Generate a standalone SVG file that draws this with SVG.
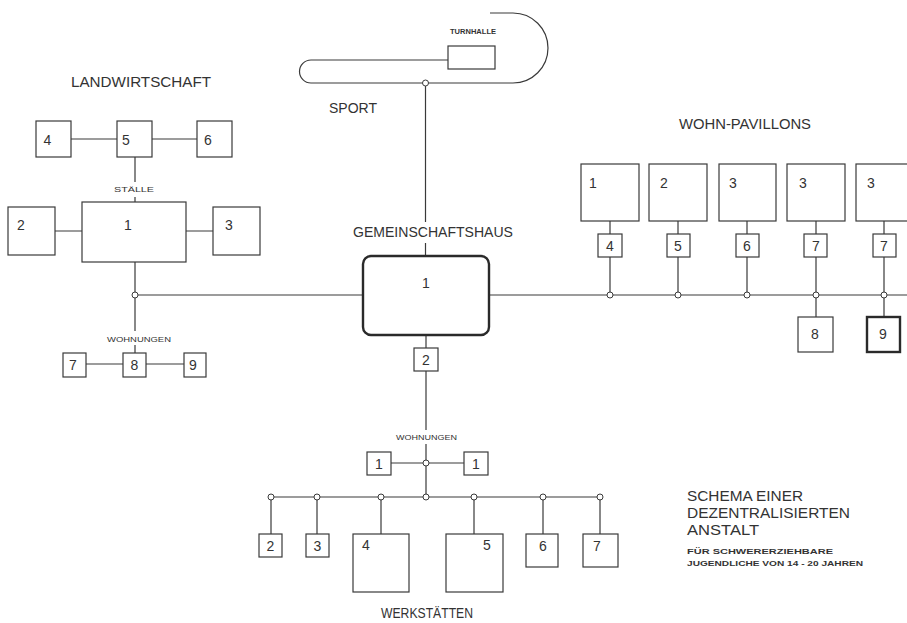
<svg xmlns="http://www.w3.org/2000/svg" width="907" height="623" viewBox="0 0 907 623">
<style>
.ln{stroke:#3a3a3a;stroke-width:1.2;fill:none}
.bx{stroke:#3a3a3a;stroke-width:1.2;fill:#fff}
.bxb{stroke:#2a2a2a;stroke-width:2.4;fill:#fff}
.jc{stroke:#3a3a3a;stroke-width:1;fill:#fff}
text{font-family:"Liberation Sans","DejaVu Sans",sans-serif;fill:#333}
.n{font-size:14px;text-anchor:middle}
.t{font-size:14.5px}
.s{font-size:7px;text-anchor:middle}
.sb{font-size:7.5px;font-weight:bold}
</style>
<rect width="907" height="623" fill="#fff"/>
<g id="connectors">
<path class="ln" d="M448,60 H311 A11.5,11.5 0 0 0 311,83 H513 A35,35 0 0 0 513,13 H490"/>
<path class="ln" d="M425.5,83 V222 M425.5,243 V256"/>
<path class="ln" d="M135,295 H363 M489,295 H907"/>
<path class="ln" d="M71,139 H117 M152,139 H197 M135,157 V182 M135,197 V202"/>
<path class="ln" d="M55,231 H82 M186,231 H213 M135,262 V295 M135,295 V331 M135,345 V353"/>
<path class="ln" d="M86,364 H123 M146,364 H184"/>
<path class="ln" d="M610,221 V234 M610,257 V295 M678,221 V234 M678,257 V295 M747,221 V234 M747,257 V295 M816,221 V234 M816,257 V317 M884,221 V234 M884,257 V317"/>
<path class="ln" d="M426,335 V348 M426,371 V430 M426,444 V497 M391,463 H464 M271,497 H600"/>
<path class="ln" d="M271,497 V534 M317,497 V534 M381,497 V534 M474,497 V534 M543,497 V534 M600,497 V534"/>
</g>
<g id="junctions">
<circle class="jc" cx="425.5" cy="83" r="3"/>
<circle class="jc" cx="135" cy="295" r="3"/>
<circle class="jc" cx="610" cy="295" r="3"/>
<circle class="jc" cx="678" cy="295" r="3"/>
<circle class="jc" cx="747" cy="295" r="3"/>
<circle class="jc" cx="816" cy="295" r="3"/>
<circle class="jc" cx="884" cy="295" r="3"/>
<circle class="jc" cx="426" cy="463" r="3"/>
<circle class="jc" cx="271" cy="497" r="3"/>
<circle class="jc" cx="317" cy="497" r="3"/>
<circle class="jc" cx="381" cy="497" r="3"/>
<circle class="jc" cx="426" cy="497" r="3"/>
<circle class="jc" cx="474" cy="497" r="3"/>
<circle class="jc" cx="543" cy="497" r="3"/>
<circle class="jc" cx="600" cy="497" r="3"/>
</g>
<g id="sport">
<rect class="bx" x="448" y="46" width="47" height="23"/>
<text class="sb" x="450" y="34" textLength="46" lengthAdjust="spacingAndGlyphs">TURNHALLE</text>
<text class="t" x="329" y="113" textLength="48" lengthAdjust="spacingAndGlyphs">SPORT</text>
</g>
<g id="gemeinschaftshaus">
<text class="t" x="353" y="237" textLength="160" lengthAdjust="spacingAndGlyphs">GEMEINSCHAFTSHAUS</text>
<rect class="bxb" x="363" y="256" width="126" height="79" rx="8"/>
<text class="n" x="426" y="288">1</text>
<rect class="bx" x="414" y="348" width="24" height="23"/>
<text class="n" x="426" y="365">2</text>
</g>
<g id="landwirtschaft">
<text class="t" x="71" y="87" textLength="140" lengthAdjust="spacingAndGlyphs">LANDWIRTSCHAFT</text>
<rect class="bx" x="36" y="121" width="35" height="36"/>
<text class="n" x="47.5" y="145">4</text>
<rect class="bx" x="117" y="121" width="35" height="36"/>
<text class="n" x="126" y="145">5</text>
<rect class="bx" x="197" y="121" width="35" height="36"/>
<text class="n" x="208" y="145">6</text>
<text class="s" x="134" y="192" textLength="40" lengthAdjust="spacingAndGlyphs">STÄLLE</text>
<rect class="bx" x="82" y="202" width="104" height="60"/>
<text class="n" x="128" y="230">1</text>
<rect class="bx" x="8" y="207" width="47" height="48"/>
<text class="n" x="21" y="230">2</text>
<rect class="bx" x="213" y="207" width="47" height="48"/>
<text class="n" x="229" y="230">3</text>
<text class="s" x="139" y="342" textLength="64" lengthAdjust="spacingAndGlyphs">WOHNUNGEN</text>
<rect class="bx" x="63" y="353" width="23" height="24"/>
<text class="n" x="73" y="370">7</text>
<rect class="bx" x="123" y="353" width="23" height="24"/>
<text class="n" x="134.5" y="370">8</text>
<rect class="bx" x="184" y="353" width="22" height="24"/>
<text class="n" x="193" y="370">9</text>
</g>
<g id="wohnpavillons">
<text class="t" x="679" y="129" textLength="132" lengthAdjust="spacingAndGlyphs">WOHN-PAVILLONS</text>
<rect class="bx" x="581" y="164" width="58" height="57"/>
<text class="n" x="593" y="188">1</text>
<rect class="bx" x="649" y="164" width="58" height="57"/>
<text class="n" x="664" y="188">2</text>
<rect class="bx" x="719" y="164" width="57" height="57"/>
<text class="n" x="733" y="188">3</text>
<rect class="bx" x="787" y="164" width="58" height="57"/>
<text class="n" x="803" y="188">3</text>
<rect class="bx" x="856" y="164" width="60" height="57"/>
<text class="n" x="871" y="188">3</text>
<rect class="bx" x="598" y="234" width="24" height="23"/>
<text class="n" x="610" y="251">4</text>
<rect class="bx" x="667" y="234" width="23" height="23"/>
<text class="n" x="678" y="251">5</text>
<rect class="bx" x="736" y="234" width="23" height="23"/>
<text class="n" x="747" y="251">6</text>
<rect class="bx" x="804" y="234" width="23" height="23"/>
<text class="n" x="816" y="251">7</text>
<rect class="bx" x="873" y="234" width="23" height="23"/>
<text class="n" x="884" y="251">7</text>
<rect class="bx" x="798" y="317" width="35" height="35"/>
<text class="n" x="815" y="339">8</text>
<rect class="bxb" x="867" y="317" width="33" height="35"/>
<text class="n" x="883" y="339">9</text>
</g>
<g id="werkstaetten">
<text class="s" x="426.5" y="440" textLength="61" lengthAdjust="spacingAndGlyphs">WOHNUNGEN</text>
<rect class="bx" x="367" y="452" width="24" height="23"/>
<text class="n" x="379" y="469">1</text>
<rect class="bx" x="464" y="452" width="24" height="23"/>
<text class="n" x="476" y="469">1</text>
<rect class="bx" x="259" y="534" width="23" height="23"/>
<text class="n" x="270.5" y="551">2</text>
<rect class="bx" x="306" y="534" width="23" height="23"/>
<text class="n" x="317.5" y="551">3</text>
<rect class="bx" x="353" y="534" width="56" height="58"/>
<text class="n" x="366" y="550">4</text>
<rect class="bx" x="446" y="534" width="57" height="58"/>
<text class="n" x="487" y="550">5</text>
<rect class="bx" x="526" y="534" width="32" height="33"/>
<text class="n" x="543" y="551">6</text>
<rect class="bx" x="583" y="534" width="35" height="33"/>
<text class="n" x="597" y="551">7</text>
<text class="t" x="381" y="618" textLength="92" lengthAdjust="spacingAndGlyphs">WERKSTÄTTEN</text>
</g>
<g id="title">
<text class="t" x="687" y="501" textLength="116" lengthAdjust="spacingAndGlyphs">SCHEMA EINER</text>
<text class="t" x="687" y="518" textLength="163" lengthAdjust="spacingAndGlyphs">DEZENTRALISIERTEN</text>
<text class="t" x="687" y="535" textLength="72" lengthAdjust="spacingAndGlyphs">ANSTALT</text>
<text class="sb" x="687" y="554" textLength="146" lengthAdjust="spacingAndGlyphs">FÜR SCHWERERZIEHBARE</text>
<text class="sb" x="687" y="566" textLength="176" lengthAdjust="spacingAndGlyphs">JUGENDLICHE VON 14 - 20 JAHREN</text>
</g>
</svg>
